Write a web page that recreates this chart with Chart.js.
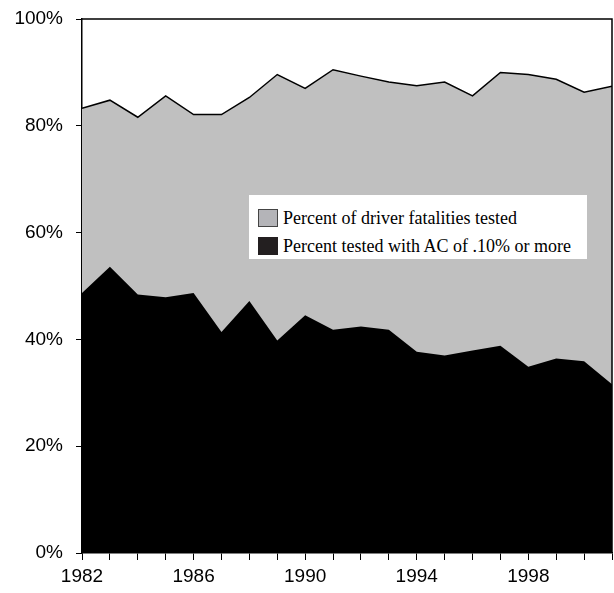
<!DOCTYPE html>
<html>
<head>
<meta charset="utf-8">
<script src="https://cdn.jsdelivr.net/npm/chart.js@4/dist/chart.umd.min.js"></script>
<style>
  html, body { margin: 0; padding: 0; background: #fff; }
  #wrap { position: relative; width: 614px; height: 593px; }
  #legend {
    position: absolute; left: 249px; top: 195px; width: 338px; height: 64px;
    background: #fff; box-sizing: border-box; padding: 9px 0 0 9px;
    font-family: "Liberation Serif", "Times New Roman", serif; font-size: 18px; color: #000;
  }
  .legend-item { display: flex; align-items: center; height: 28px; }
  .legend-swatch { width: 20px; height: 18px; box-sizing: border-box; margin-right: 5px; }
</style>
</head>
<body>
<div id="wrap">
  <canvas id="chart" width="614" height="593"></canvas>
  <div id="legend"></div>
</div>
<script>
const years = [1982, 1983, 1984, 1985, 1986, 1987, 1988, 1989, 1990, 1991,
               1992, 1993, 1994, 1995, 1996, 1997, 1998, 1999, 2000, 2001];
const testedPct  = [83.3, 84.8, 81.6, 85.6, 82.1, 82.1, 85.3, 89.6, 87.0, 90.5,
                    89.3, 88.2, 87.5, 88.2, 85.6, 90.0, 89.6, 88.7, 86.3, 87.4];
const highBacPct = [48.7, 53.6, 48.4, 47.9, 48.7, 41.4, 47.2, 39.8, 44.5, 41.8,
                    42.4, 41.8, 37.7, 37.0, 37.9, 38.8, 34.9, 36.4, 35.9, 31.6];
const yTicks = [0, 20, 40, 60, 80, 100];
const labelYears = [1982, 1986, 1990, 1994, 1998];

const series = [
  { label: "Percent of driver fatalities tested", values: testedPct, fill: "#c0c0c0", swatch: "#b4b4b8", swatchBorder: "#444", line: "#000", order: 1 },
  { label: "Percent tested with AC of .10% or more", values: highBacPct, fill: "#000", swatch: "#231f20", swatchBorder: "#231f20", line: "#000", order: 0 }
];

// top + right frame of the plot box
const frame = {
  id: "frame",
  afterDatasetsDraw(chart) {
    const { ctx, chartArea: a } = chart;
    ctx.save();
    ctx.strokeStyle = "#000";
    ctx.lineWidth = 1.5;
    ctx.beginPath();
    ctx.moveTo(a.left, a.top);
    ctx.lineTo(a.right, a.top);
    ctx.lineTo(a.right, a.bottom);
    ctx.stroke();
    ctx.restore();
  }
};

const tickFont = { family: "'Liberation Sans', Arial, sans-serif", size: 19 };

new Chart(document.getElementById("chart"), {
  type: "line",
  data: {
    datasets: series.map((s) => ({
      label: s.label,
      data: years.map((y, i) => ({ x: y, y: s.values[i] })),
      backgroundColor: s.fill,
      borderColor: s.line,
      borderWidth: s.order === 1 ? 1.5 : 0,
      fill: "origin",
      pointRadius: 0,
      tension: 0,
      order: s.order
    }))
  },
  options: {
    responsive: false,
    animation: false,
    layout: { padding: { top: 19, right: 2, left: 0, bottom: 0 } },
    plugins: { legend: { display: false }, tooltip: { enabled: false } },
    scales: {
      x: {
        type: "linear", min: 1982, max: 2001,
        afterFit: (s) => { s.height = 40; s.paddingLeft = 0; s.paddingRight = 0; },
        border: { display: true, color: "#000", width: 1.5 },
        grid: { drawOnChartArea: false, drawTicks: true, tickLength: 7, color: "#000", lineWidth: 1 },
        ticks: {
          stepSize: 1, autoSkip: false, maxRotation: 0, padding: 5, color: "#000", font: tickFont,
          callback: (v) => labelYears.includes(v) ? String(v) : ""
        }
      },
      y: {
        min: 0, max: 100,
        afterFit: (s) => { s.width = 82; s.paddingTop = 0; s.paddingBottom = 0; },
        afterBuildTicks: (s) => { s.ticks = yTicks.map((v) => ({ value: v })); },
        border: { display: true, color: "#000", width: 1.5 },
        grid: { drawOnChartArea: false, drawTicks: true, tickLength: 6, color: "#000", lineWidth: 1 },
        ticks: { padding: 13, color: "#000", font: tickFont, callback: (v) => v + "%" }
      }
    }
  },
  plugins: [frame]
});

document.getElementById("legend").innerHTML = series.map((s) =>
  `<div class="legend-item"><span class="legend-swatch" style="background:${s.swatch};border:1px solid ${s.swatchBorder}"></span>${s.label}</div>`
).join("");
</script>
</body>
</html>
